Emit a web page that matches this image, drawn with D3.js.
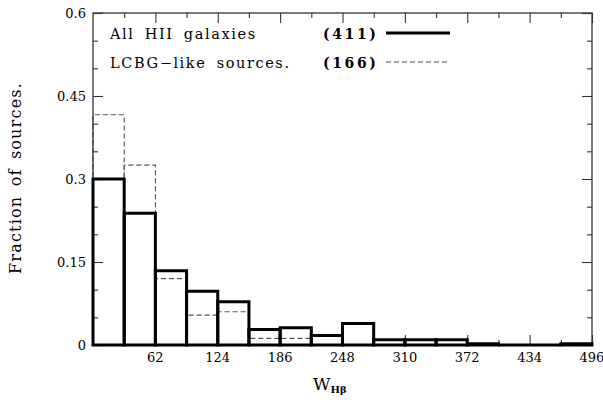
<!DOCTYPE html>
<html>
<head>
<meta charset="utf-8">
<script src="https://cdn.jsdelivr.net/npm/d3@7"></script>
<style>
  html, body { margin: 0; padding: 0; background: #fff; }
  svg { display: block; }
  text { font-family: "DejaVu Serif", "Liberation Serif", serif; fill: #000; }
</style>
</head>
<body>
<svg id="chart" width="603" height="402"></svg>
<script>
// Histogram of H-beta equivalent widths, bins of 31 from 0 to 496
const binEdges = [0, 31, 62, 93, 124, 155, 186, 217, 248, 279, 310, 341, 372, 403, 434, 465, 496];
// Fraction of sources per bin
const allHII = [0.300, 0.238, 0.134, 0.097, 0.078, 0.028, 0.031, 0.017, 0.039, 0.0097, 0.0097, 0.0097, 0.0024, 0, 0, 0.0024];
const lcbg   = [0.416, 0.325, 0.120, 0.054, 0.060, 0.012, 0.012, 0, 0, 0, 0, 0, 0, 0, 0, 0];
const legendItems = [
  { label: "All HII galaxies", count: "(411)", key: "all" },
  { label: "LCBG\u2212like sources.", count: "(166)", key: "lcbg" }
];
const xMajorTicks = [62, 124, 186, 248, 310, 372, 434, 496];
const xMinorTicks = [31, 93, 155, 217, 279, 341, 403, 465];
const yMajorTicks = [0, 0.15, 0.3, 0.45, 0.6];
const yMinorTicks = [0.05, 0.1, 0.2, 0.25, 0.35, 0.4, 0.5, 0.55];
const yTickLabels = ["0", "0.15", "0.3", "0.45", "0.6"];

const svg = d3.select("#chart");
const plotLeft = 93, plotRight = 592, plotTop = 13, plotBottom = 345;

const x = d3.scaleLinear().domain([0, 496]).range([plotLeft, plotRight]);
const y = d3.scaleLinear().domain([0, 0.6]).range([plotBottom, plotTop]);

const bins = (vals) => vals.map((v, i) => ({ x0: binEdges[i], x1: binEdges[i + 1], v }));

// Outline of one bin as a closed box (a zero-height bin still draws its base)
function binOutline(d) {
  const p = d3.path();
  p.moveTo(x(d.x0), y(0));
  p.lineTo(x(d.x0), y(d.v));
  p.lineTo(x(d.x1), y(d.v));
  p.lineTo(x(d.x1), y(0));
  p.closePath();
  return p.toString();
}

// LCBG-like histogram (dashed, underneath)
svg.append("g")
  .selectAll("path")
  .data(bins(lcbg).filter(d => d.v > 0))
  .join("path")
  .attr("d", binOutline)
  .attr("fill", "none")
  .attr("stroke", "#555")
  .attr("stroke-width", 1.1)
  .attr("stroke-dasharray", "5,3");

// Frame with ticks on all four sides
svg.append("rect")
  .attr("x", plotLeft).attr("y", plotTop)
  .attr("width", plotRight - plotLeft).attr("height", plotBottom - plotTop)
  .attr("fill", "none")
  .attr("stroke", "#333")
  .attr("stroke-width", 1.3);

function tickGroup(axis, transform) {
  svg.append("g").attr("transform", transform).call(axis)
    .call(g => {
      g.select(".domain").remove();
      g.selectAll("line").attr("stroke", "#333").attr("stroke-width", 1.1);
    });
}
tickGroup(d3.axisBottom(x).tickValues(xMajorTicks).tickSize(-10).tickFormat(""), `translate(0,${plotBottom})`);
tickGroup(d3.axisBottom(x).tickValues(xMinorTicks).tickSize(-5).tickFormat(""), `translate(0,${plotBottom})`);
tickGroup(d3.axisTop(x).tickValues(xMajorTicks).tickSize(-10).tickFormat(""), `translate(0,${plotTop})`);
tickGroup(d3.axisTop(x).tickValues(xMinorTicks).tickSize(-5).tickFormat(""), `translate(0,${plotTop})`);
tickGroup(d3.axisLeft(y).tickValues(yMajorTicks).tickSize(-10).tickFormat(""), `translate(${plotLeft},0)`);
tickGroup(d3.axisLeft(y).tickValues(yMinorTicks).tickSize(-5).tickFormat(""), `translate(${plotLeft},0)`);
tickGroup(d3.axisRight(y).tickValues(yMajorTicks).tickSize(-10).tickFormat(""), `translate(${plotRight},0)`);
tickGroup(d3.axisRight(y).tickValues(yMinorTicks).tickSize(-5).tickFormat(""), `translate(${plotRight},0)`);

// Tick labels
svg.append("g").selectAll("text")
  .data(yMajorTicks)
  .join("text")
  .attr("x", plotLeft - 7)
  .attr("y", d => y(d) + 5)
  .attr("text-anchor", "end")
  .attr("font-size", 13)
  .text((d, i) => yTickLabels[i]);

svg.append("g").selectAll("text")
  .data(xMajorTicks)
  .join("text")
  .attr("x", d => x(d))
  .attr("y", plotBottom + 17)
  .attr("text-anchor", "middle")
  .attr("font-size", 13)
  .text(d => d);

// All HII galaxies histogram (thick solid, on top)
svg.append("g")
  .selectAll("path")
  .data(bins(allHII))
  .join("path")
  .attr("d", binOutline)
  .attr("fill", "none")
  .attr("stroke", "#000")
  .attr("stroke-width", 3);

// Legend
const lg = svg.append("g");
legendItems.forEach((it, i) => {
  const by = 39 + i * 29;
  lg.append("text")
    .attr("x", 110).attr("y", by)
    .attr("font-size", 14.5)
    .attr("letter-spacing", 1.6)
    .attr("word-spacing", 4)
    .text(it.label);
  lg.append("text")
    .attr("x", 323).attr("y", by)
    .attr("font-size", 14)
    .attr("font-weight", "bold")
    .attr("letter-spacing", 2.6)
    .text(it.count);
  const ly = by - 6;
  const line = lg.append("line")
    .attr("x1", 386).attr("x2", 450)
    .attr("y1", ly).attr("y2", ly);
  if (it.key === "all") {
    line.attr("stroke", "#000").attr("stroke-width", 3);
  } else {
    line.attr("stroke", "#555").attr("stroke-width", 1.1).attr("stroke-dasharray", "5,3");
  }
});

// Axis titles
svg.append("text")
  .attr("transform", "translate(21,178) rotate(-90)")
  .attr("text-anchor", "middle")
  .attr("font-size", 16)
  .attr("letter-spacing", 1.2)
  .attr("word-spacing", 3)
  .text("Fraction of sources.");

const xt = svg.append("text")
  .attr("x", 313).attr("y", 390)
  .attr("font-size", 17);
xt.append("tspan").text("W");
xt.append("tspan")
  .attr("dy", 3)
  .attr("font-size", 10)
  .attr("font-weight", "bold")
  .text("H\u03B2");
</script>
</body>
</html>
